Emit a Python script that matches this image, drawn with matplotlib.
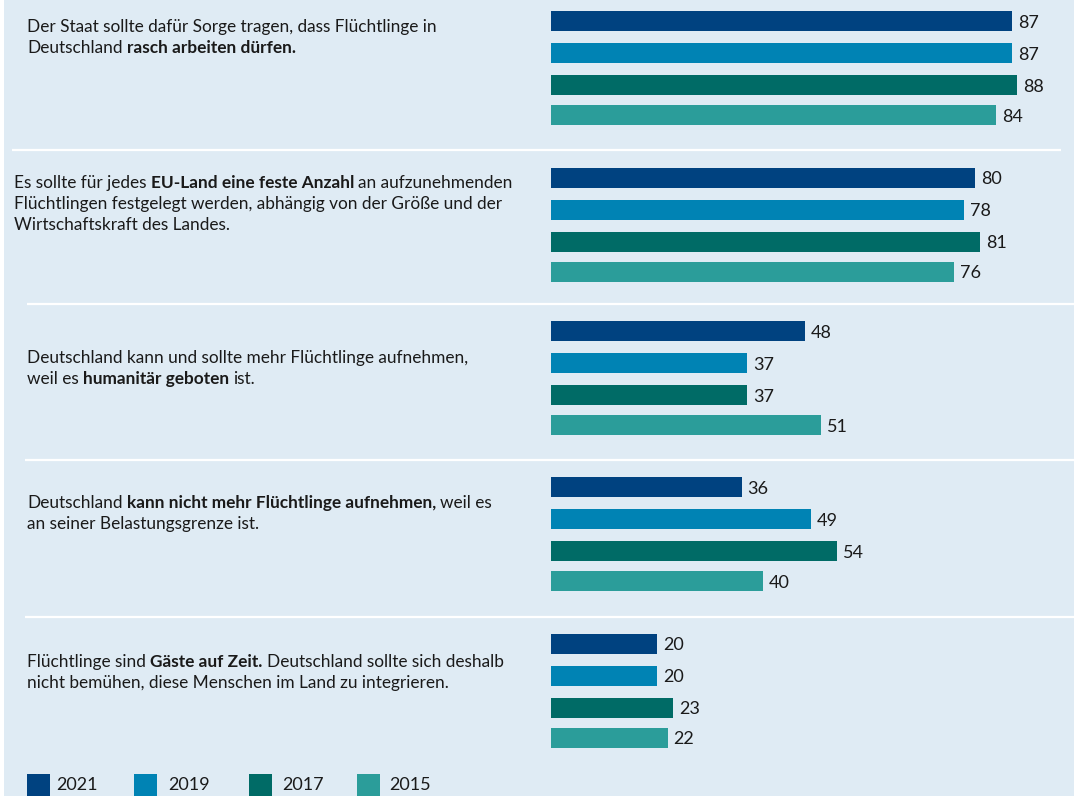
import matplotlib.pyplot as plt
from matplotlib.patches import Rectangle

plt.rcParams['font.family'] = ['Lato', 'DejaVu Sans']

years = ['2021', '2019', '2017', '2015']
colors = ['#004280', '#0083b4', '#006b66', '#2b9d9a']

# Zustimmung in Prozent, je Aussage (oben nach unten)
v2021 = [87, 80, 48, 36, 20]
v2019 = [87, 78, 37, 49, 20]
v2017 = [88, 81, 37, 54, 23]
v2015 = [84, 76, 51, 40, 22]
series = [v2021, v2019, v2017, v2015]

# Aussagen: Zeilen aus (Text, fett)-Teilen
statements = [
    [[('Der Staat sollte dafür Sorge tragen, dass Flüchtlinge in', False)],
     [('Deutschland', False), ('rasch arbeiten dürfen.', True)]],
    [[('Es sollte für jedes', False), ('EU-Land eine feste Anzahl', True), ('an aufzunehmenden', False)],
     [('Flüchtlingen festgelegt werden, abhängig von der Größe und der', False)],
     [('Wirtschaftskraft des Landes.', False)]],
    [[('Deutschland kann und sollte mehr Flüchtlinge aufnehmen,', False)],
     [('weil es', False), ('humanitär geboten', True), ('ist.', False)]],
    [[('Deutschland', False), ('kann nicht mehr Flüchtlinge aufnehmen,', True), ('weil es', False)],
     [('an seiner Belastungsgrenze ist.', False)]],
    [[('Flüchtlinge sind', False), ('Gäste auf Zeit.', True), ('Deutschland sollte sich deshalb', False)],
     [('nicht bemühen, diese Menschen im Land zu integrieren.', False)]],
]

W, H = 1074, 796
bg = '#dfebf4'
txt = '#1a1a1a'
fs = 12.4
fs_num = 13

group_y = [21, 178, 331, 487, 644]
bar_off = [0, 32, 64, 94]
text_x = [27, 14, 27, 27, 27]
text_y = [32, 188, 363, 508, 667]
line_h = 21

fig = plt.figure(figsize=(W / 100, H / 100), dpi=100)
fig.patch.set_facecolor('white')

# Hintergrund-Achse in Pixelkoordinaten
back = fig.add_axes([0, 0, 1, 1])
back.set_xlim(0, W)
back.set_ylim(H, 0)
back.axis('off')
back.add_patch(Rectangle((4, 0), W - 4, H, facecolor=bg, edgecolor='none', zorder=0))

for y, x0, x1 in [(150, 12, 1061), (304, 27, W), (460, 25, W), (617, 25, W)]:
    back.plot([x0, x1], [y, y], color='white', lw=1.6, solid_capstyle='butt', zorder=1)

# Balken-Achse: 0..100 Prozent
ax = fig.add_axes([551 / W, 0, 530 / W, 1])
ax.set_xlim(0, 100)
ax.set_ylim(H, 0)
ax.axis('off')

for k, vals in enumerate(series):
    ys = [g + bar_off[k] for g in group_y]
    ax.barh(ys, vals, height=20, color=colors[k], zorder=2)
    for y, v in zip(ys, vals):
        ax.annotate(str(v), xy=(v, y), xytext=(4.2, 0), textcoords='offset points',
                    va='center_baseline', ha='left', fontsize=fs_num, color=txt)

# Aussagen mit fetten Teilen
renderer = fig.canvas.get_renderer()


def advance(s, weight):
    # Breite von s plus ein Leerzeichen
    a = back.text(0, -100, s + ' X', fontsize=fs, fontweight=weight)
    b = back.text(0, -100, 'X', fontsize=fs, fontweight=weight)
    w = a.get_window_extent(renderer).width - b.get_window_extent(renderer).width
    a.remove()
    b.remove()
    return w


for i, lines in enumerate(statements):
    for j, parts in enumerate(lines):
        x = text_x[i]
        y = text_y[i] + j * line_h
        for s, bold in parts:
            weight = 'bold' if bold else 'normal'
            back.text(x, y, s, fontsize=fs, color=txt, va='baseline', ha='left', fontweight=weight)
            x = x + advance(s, weight)

# Legende
legend_x = [27, 134, 249, 357]
label_x = [56, 168, 282, 389]
for k in range(4):
    back.add_patch(Rectangle((legend_x[k], 774), 23, 22, facecolor=colors[k], edgecolor='none'))
    back.text(label_x[k], 790, years[k], fontsize=fs_num, color=txt, va='baseline', ha='left')

fig.savefig('out.png', dpi=100)
